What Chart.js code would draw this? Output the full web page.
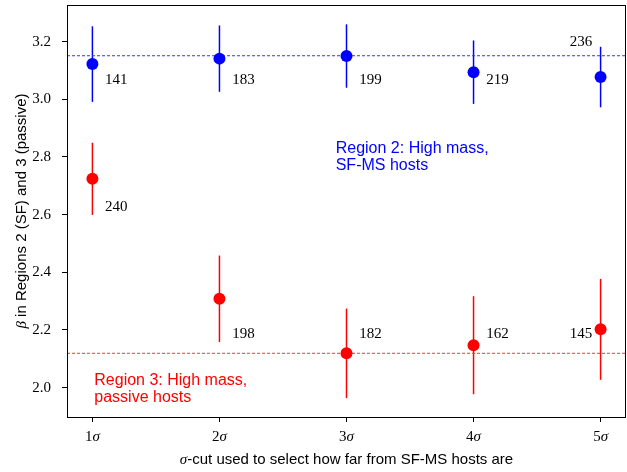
<!DOCTYPE html>
<html>
<head>
<meta charset="utf-8">
<script src="https://cdn.jsdelivr.net/npm/chart.js@4.4.1/dist/chart.umd.min.js"></script>
<style>
html, body { margin: 0; padding: 0; background: #fff; }
</style>
</head>
<body>
<canvas id="myChart" width="627" height="472"></canvas>
<script>
// sigma cut used for the host selection
var sigmaCuts = [1, 2, 3, 4, 5];
var xTickLabels = ["1", "2", "3", "4", "5"];
var yTicks = [2.0, 2.2, 2.4, 2.6, 2.8, 3.0, 3.2];

// Region 2 (SF-MS hosts)
var betaSF = [3.122, 3.141, 3.150, 3.094, 3.077];
var errSF = [0.131, 0.115, 0.110, 0.110, 0.105];
var countSF = [141, 183, 199, 219, 236];
var refSF = 3.151;

// Region 3 (passive hosts)
var betaPassive = [2.724, 2.308, 2.119, 2.147, 2.202];
var errPassive = [0.125, 0.150, 0.155, 0.170, 0.175];
var countPassive = [240, 198, 182, 162, 145];
var refPassive = 2.119;

var serif = '"Liberation Serif", "DejaVu Serif", serif';
var sans = '"Liberation Sans", "DejaVu Sans", sans-serif';

function pts(ys) {
	return sigmaCuts.map(function (c, i) { return { x: c, y: ys[i] }; });
}

// draws pieces of text with different fonts one after another
function drawRuns(ctx, runs, x, y, align) {
	var total = 0;
	runs.forEach(function (r) { ctx.font = r[1]; total += ctx.measureText(r[0]).width; });
	var cx = align === "center" ? x - total / 2 : x;
	ctx.textAlign = "left";
	runs.forEach(function (r) {
		ctx.font = r[1];
		ctx.fillText(r[0], cx, y);
		cx += ctx.measureText(r[0]).width;
	});
}

var extras = {
	id: "extras",
	beforeDatasetsDraw: function (chart) {
		var ctx = chart.ctx, xs = chart.scales.x, ys = chart.scales.y;
		ctx.save();
		ctx.lineWidth = 1.5;
		[[betaSF, errSF, "#0000ff"], [betaPassive, errPassive, "#ff0000"]].forEach(function (s) {
			ctx.strokeStyle = s[2];
			sigmaCuts.forEach(function (c, i) {
				var x = xs.getPixelForValue(c);
				ctx.beginPath();
				ctx.moveTo(x, ys.getPixelForValue(s[0][i] + s[1][i]));
				ctx.lineTo(x, ys.getPixelForValue(s[0][i] - s[1][i]));
				ctx.stroke();
			});
		});
		ctx.restore();
	},
	afterDraw: function (chart) {
		var ctx = chart.ctx, xs = chart.scales.x, ys = chart.scales.y, a = chart.chartArea;
		ctx.save();

		// box around the axes
		ctx.strokeStyle = "#000";
		ctx.lineWidth = 1;
		ctx.strokeRect(Math.round(a.left) + 0.5, Math.round(a.top) + 0.5,
			Math.round(a.right - a.left) - 1, Math.round(a.bottom - a.top));

		// sample sizes next to each point
		ctx.fillStyle = "#000";
		ctx.font = "15px " + serif;
		ctx.textBaseline = "middle";
		var sfY = [3.065, 3.065, 3.065, 3.065, 3.197];
		var psY = [2.626, 2.184, 2.186, 2.186, 2.186];
		sigmaCuts.forEach(function (c, i) {
			var last = i === sigmaCuts.length - 1;
			ctx.textAlign = last ? "right" : "left";
			var x = last ? xs.getPixelForValue(c - 0.065) : xs.getPixelForValue(c + 0.1);
			ctx.fillText(String(countSF[i]), x, ys.getPixelForValue(sfY[i]));
			ctx.fillText(String(countPassive[i]), x, ys.getPixelForValue(psY[i]));
		});

		// region notes
		ctx.font = "16px " + sans;
		ctx.textAlign = "left";
		ctx.fillStyle = "#0000ff";
		ctx.fillText("Region 2: High mass,", xs.getPixelForValue(2.915), ys.getPixelForValue(2.8275));
		ctx.fillText("SF-MS hosts", xs.getPixelForValue(2.915), ys.getPixelForValue(2.770));
		ctx.fillStyle = "#ff0000";
		ctx.fillText("Region 3: High mass,", xs.getPixelForValue(1.015), ys.getPixelForValue(2.026));
		ctx.fillText("passive hosts", xs.getPixelForValue(1.015), ys.getPixelForValue(1.966));

		// x tick labels with italic sigma
		ctx.fillStyle = "#000";
		sigmaCuts.forEach(function (c, i) {
			drawRuns(ctx, [[xTickLabels[i], "15px " + serif], ["σ", "italic 15px " + serif]],
				xs.getPixelForValue(c), 437, "center");
		});

		// axis titles
		drawRuns(ctx, [["σ", "italic 15px " + serif], ["-cut used to select how far from SF-MS hosts are", "15px " + sans]],
			(a.left + a.right) / 2, 460, "center");
		ctx.translate(22, (a.top + a.bottom) / 2);
		ctx.rotate(-Math.PI / 2);
		drawRuns(ctx, [["β", "italic 15px " + serif], [" in Regions 2 (SF) and 3 (passive)", "15px " + sans]],
			0, 0, "center");
		ctx.restore();
	}
};

var ctx = document.getElementById("myChart").getContext("2d");

var graphData = {
	type: "scatter",
	data: {
		datasets: [
			{
				data: pts(betaSF),
				backgroundColor: "#0000ff",
				borderWidth: 0,
				pointRadius: 6,
				order: 1,
			},
			{
				data: pts(betaPassive),
				backgroundColor: "#ff0000",
				borderWidth: 0,
				pointRadius: 6,
				order: 1,
			},
			{
				type: "line",
				data: [{ x: 0.8, y: refSF }, { x: 5.2, y: refSF }],
				borderColor: "#3333ff",
				borderWidth: 1,
				borderDash: [3, 2],
				pointRadius: 0,
				order: 2,
			},
			{
				type: "line",
				data: [{ x: 0.8, y: refPassive }, { x: 5.2, y: refPassive }],
				borderColor: "#ff3333",
				borderWidth: 1,
				borderDash: [3, 2],
				pointRadius: 0,
				order: 2,
			},
		],
	},
	options: {
		responsive: false,
		animation: false,
		devicePixelRatio: 1,
		layout: { autoPadding: false, padding: { top: 5, right: 1, left: 0, bottom: 0 } },
		plugins: { legend: { display: false }, tooltip: { enabled: false } },
		scales: {
			x: {
				type: "linear",
				min: 0.8,
				max: 5.2,
				afterBuildTicks: function (s) { s.ticks = sigmaCuts.map(function (v) { return { value: v }; }); },
				afterFit: function (s) { s.height = 55; s.paddingLeft = 0; s.paddingRight = 0; },
				ticks: { display: false },
				grid: { drawOnChartArea: false, drawTicks: true, tickLength: 5, color: "#000", tickWidth: 1 },
				border: { display: false },
			},
			y: {
				type: "linear",
				min: 1.898,
				max: 3.327,
				afterBuildTicks: function (s) { s.ticks = yTicks.map(function (v) { return { value: v }; }); },
				afterFit: function (s) { s.width = 67; s.paddingTop = 0; s.paddingBottom = 0; },
				ticks: {
					padding: 11,
					color: "#000",
					font: { family: serif, size: 15 },
					callback: function (v) { return v.toFixed(1); },
				},
				grid: { drawOnChartArea: false, drawTicks: true, tickLength: 5, color: "#000", tickWidth: 1 },
				border: { display: false },
			},
		},
	},
	plugins: [extras],
};

var myChart = new Chart(ctx, graphData);
</script>
</body>
</html>
